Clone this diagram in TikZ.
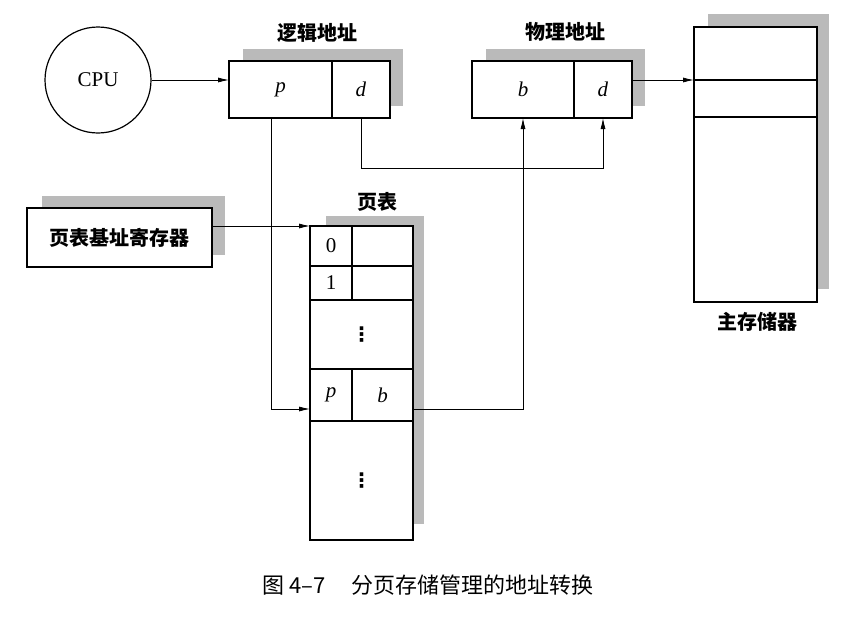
\documentclass[tikz,border=0pt]{standalone}
\usepackage{fontspec}
\setmainfont{Liberation Serif}
\newfontfamily\cjk{Noto Sans CJK SC}
\newfontfamily\dvs{DejaVu Sans}
\usetikzlibrary{arrows.meta}
\tikzset{
  cell/.style={draw, line width=1.3pt, fill=white, inner sep=0pt, outer sep=0pt, font=\fontsize{21}{23}\selectfont},
  shade/.style={fill=black!27, draw=none},
  lbl/.style={font=\cjk\bfseries\fontsize{20}{22}\selectfont, inner sep=0pt},
  arr/.style={line width=0.8pt, -{Latex[length=11pt,width=5pt]}},
  dots/.style={font=\dvs\bfseries\fontsize{20}{22}\selectfont},
}
\begin{document}
\begin{tikzpicture}[x=1pt,y=-1pt]
\useasboundingbox (0,0) rectangle (851,619);
% shadows
\fill[shade] (243,49) rectangle (403,106);
\fill[shade] (486,49) rectangle (645,106);
\fill[shade] (708,14) rectangle (829,289);
\fill[shade] (42,196) rectangle (225,255);
\fill[shade] (326,216) rectangle (424,524);
% CPU
\node[draw, circle, line width=1.2pt, minimum size=106pt, inner sep=0pt, font=\fontsize{21}{23}\selectfont] (cpu) at (98,80) {CPU};
% logical address
\node[cell, minimum width=103pt, minimum height=57pt] (lap) at (280.5,89.5) {\textit{p}};
\node[cell, minimum width=58pt, minimum height=57pt] (lad) at (361,89.5) {\textit{d}};
\node[lbl] (lal) at (317,33) {逻辑地址};
% physical address
\node[cell, minimum width=102pt, minimum height=57pt] (pab) at (523,89.5) {\textit{b}};
\node[cell, minimum width=58pt, minimum height=57pt] (pad) at (603,89.5) {\textit{d}};
\node[lbl] (pal) at (565,32) {物理地址};
% main memory
\node[cell, minimum width=123pt, minimum height=53pt] (mem1) at (755.5,53.5) {};
\node[cell, minimum width=123pt, minimum height=37pt] (mem2) at (755.5,98.5) {};
\node[cell, minimum width=123pt, minimum height=185pt] (mem3) at (755.5,209.5) {};
\node[lbl] (meml) at (757,322) {主存储器};
% page table base register
\node[cell, minimum width=185pt, minimum height=59pt, font=\cjk\bfseries\fontsize{20}{22}\selectfont] (reg) at (119.5,237.5) {页表基址寄存器};
% page table
\node[cell, minimum width=42pt, minimum height=40pt] (pt0l) at (331,246) {0};
\node[cell, minimum width=61pt, minimum height=40pt] (pt0r) at (382.5,246) {};
\node[cell, minimum width=42pt, minimum height=34pt] (pt1l) at (331,283) {1};
\node[cell, minimum width=61pt, minimum height=34pt] (pt1r) at (382.5,283) {};
\node[cell, dots, minimum width=103pt, minimum height=69pt] (ptd1) at (361.5,334.5) {⋮};
\node[cell, minimum width=42pt, minimum height=52pt] (ptp) at (331,395) {\textit{p}};
\node[cell, minimum width=61pt, minimum height=52pt] (ptb) at (382.5,395) {\textit{b}};
\node[cell, dots, minimum width=103pt, minimum height=119pt] (ptd2) at (361.5,480.5) {⋮};
\node[lbl] (ptl) at (377,202) {页表};
% turning points
\coordinate (pturn) at (271,409);
\coordinate (dy) at (0,168);
% connectors
\draw[arr] (cpu.east) -- (cpu.east -| lap.west);
\draw[arr] (reg.east |- pt0l.north west) -- (pt0l.north west);
\draw[arr] (lap.south -| pturn) -- (pturn) -- (pturn -| ptp.west);
\draw[arr] (lad.south) -- (lad.south |- dy) -| (pad.south);
\draw[arr] (ptb.east |- pturn) -| (pab.south);
\draw[arr] (pad.east |- mem1.south) -- (mem1.south west);
% caption
\node[font=\cjk\fontsize{22}{24}\selectfont, inner sep=0pt] (cap) at (428,585) {图 4–7\hspace{1.2em}分页存储管理的地址转换};
\end{tikzpicture}
\end{document}
